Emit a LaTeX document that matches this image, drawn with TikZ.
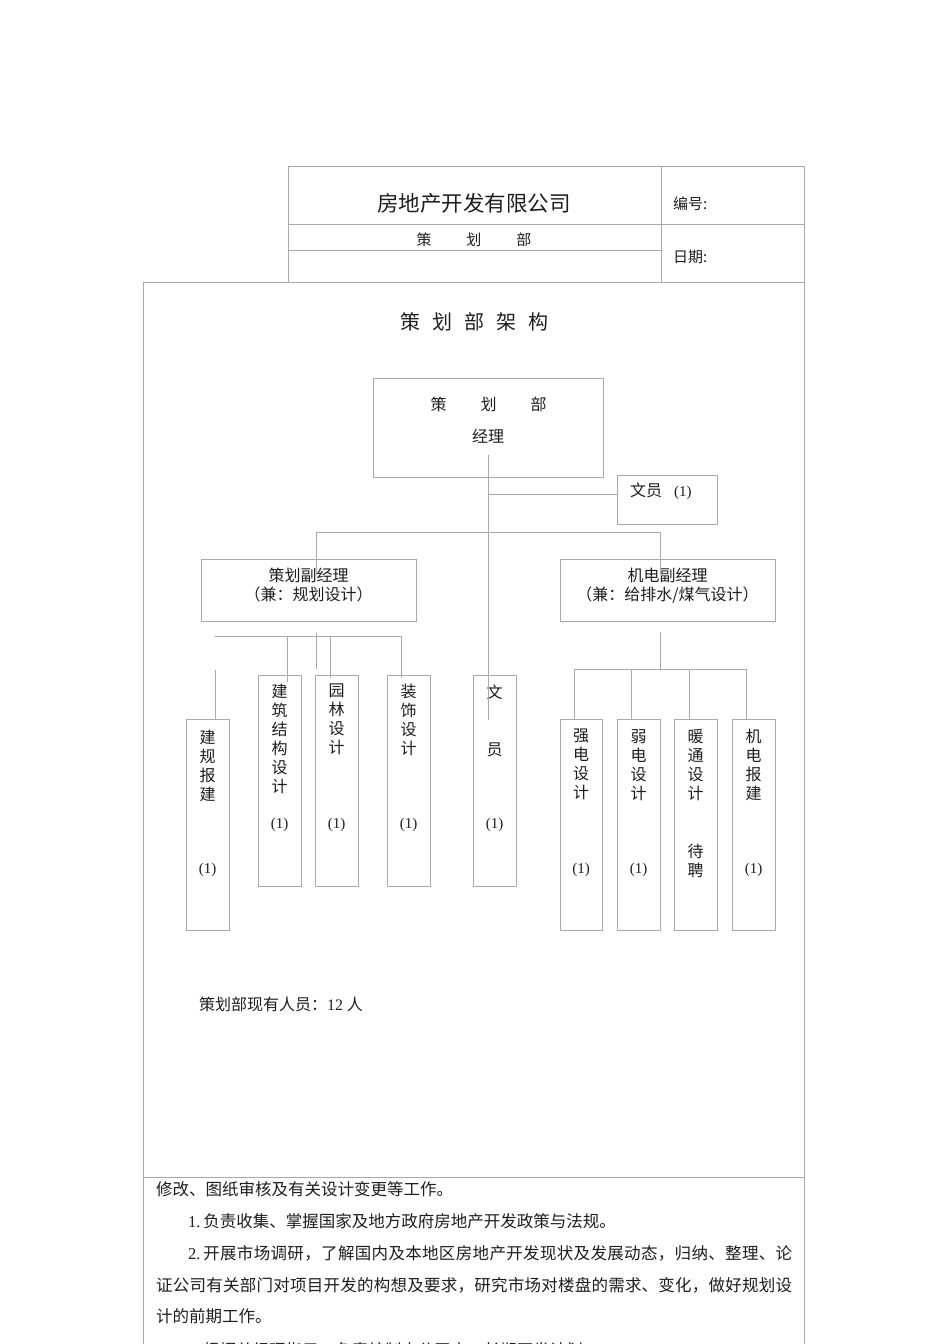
\documentclass[tikz,border=0pt]{standalone}
\usepackage{fontspec}
\setmainfont{Liberation Serif}
\newfontfamily\cjk{Noto Sans CJK SC}
\definecolor{linegray}{RGB}{170,170,170}
\definecolor{txt}{RGB}{30,30,30}
\tikzset{
  box/.style={draw=linegray, line width=0.8pt, inner sep=0pt, rectangle},
  conn/.style={draw=linegray, line width=0.8pt},
  rule/.style={draw=linegray, line width=0.8pt},
  lbl/.style={inner sep=0pt, text=txt, font=\cjk\fontsize{16}{19}\selectfont, align=center},
  vlbl/.style={inner sep=0pt, text=txt, font=\cjk\fontsize{16}{19}\selectfont, align=center, anchor=north},
  para/.style={inner sep=0pt, text=txt, font=\cjk\fontsize{16.5}{20}\selectfont, anchor=west}
}
\begin{document}
\begin{tikzpicture}[x=1pt,y=-1pt]
\useasboundingbox (0,0) rectangle (950,1344);
\fill[white] (0,0) rectangle (950,1344);
% ---------- header table ----------
\draw[rule] (288,282) -- (288,166) -- (804,166) -- (804,282);
\draw[rule] (661,166) -- (661,282);
\draw[rule] (288,224) -- (804,224);
\draw[rule] (288,250) -- (661,250);
\node[lbl, font=\cjk\fontsize{21.5}{24}\selectfont] (company) at (474,203) {房地产开发有限公司};
\node[lbl, font=\cjk\fontsize{15}{18}\selectfont, anchor=west] (codeno) at (673,204) {编号:};
\node[lbl, font=\cjk\fontsize{15}{18}\selectfont] (dept) at (474,240) {策\hspace{35pt}划\hspace{35pt}部};
\node[lbl, font=\cjk\fontsize{15}{18}\selectfont, anchor=west] (date) at (673,257) {日期:};
% ---------- main frame ----------
\draw[rule] (143,282) rectangle (804,1177);
\draw[rule] (143,1177) -- (143,1344);
\draw[rule] (804,1177) -- (804,1344);
\node[lbl, font=\cjk\fontsize{20}{24}\selectfont] (title) at (474,322) {策\hspace{12pt}划\hspace{12pt}部\hspace{12pt}架\hspace{12pt}构};
% ---------- org boxes ----------
\node[box, minimum width=230pt, minimum height=99pt] (mgr) at (488,427.5) {};
\node[lbl] (mgrA) at (488.5,404) {策\hspace{34pt}划\hspace{34pt}部};
\node[lbl] (mgrB) at (488,436) {经理};
\node[box, minimum width=100pt, minimum height=49pt] (clerkA) at (667,499.5) {};
\node[lbl, anchor=west] (clerkAt) at (630,491) {文员\hspace{12pt}{\rmfamily\fontsize{15}{18}\selectfont(1)}};
\node[box, minimum width=215pt, minimum height=62pt] (vpA) at (308.5,590) {};
\node[lbl] (vpAt) at (308.5,585.5) {策划副经理\\（兼：规划设计）};
\node[box, minimum width=215pt, minimum height=62pt] (vpB) at (667.5,590) {};
\node[lbl] (vpBt) at (667.5,585.5) {机电副经理\\（兼：给排水/煤气设计）};
% left column boxes
\node[box, minimum width=43pt, minimum height=211pt] (bA) at (207.5,824.5) {};
\node[vlbl] (bAt) at (207.5,730) {建\\规\\报\\建};
\node[lbl, font=\rmfamily\fontsize{15}{18}\selectfont] (bAn) at (207.5,870) {(1)};
\node[box, minimum width=43pt, minimum height=211pt] (bB) at (279.5,780.5) {};
\node[vlbl] (bBt) at (279.5,684) {建\\筑\\结\\构\\设\\计};
\node[lbl, font=\rmfamily\fontsize{15}{18}\selectfont] (bBn) at (279.5,825) {(1)};
\node[box, minimum width=43pt, minimum height=211pt] (bC) at (336.5,780.5) {};
\node[vlbl] (bCt) at (336.5,684) {园\\林\\设\\计};
\node[lbl, font=\rmfamily\fontsize{15}{18}\selectfont] (bCn) at (336.5,825) {(1)};
\node[box, minimum width=43pt, minimum height=211pt] (bD) at (408.5,780.5) {};
\node[vlbl] (bDt) at (408.5,684) {装\\饰\\设\\计};
\node[lbl, font=\rmfamily\fontsize{15}{18}\selectfont] (bDn) at (408.5,825) {(1)};
\node[box, minimum width=43pt, minimum height=211pt] (bE) at (494.5,780.5) {};
\node[lbl] (bEt1) at (494.5,692) {文};
\node[lbl] (bEt2) at (494.5,750) {员};
\node[lbl, font=\rmfamily\fontsize{15}{18}\selectfont] (bEn) at (494.5,825) {(1)};
% right column boxes
\node[box, minimum width=42pt, minimum height=211pt] (rA) at (581,824.5) {};
\node[vlbl] (rAt) at (581,729) {强\\电\\设\\计};
\node[lbl, font=\rmfamily\fontsize{15}{18}\selectfont] (rAn) at (581,870) {(1)};
\node[box, minimum width=43pt, minimum height=211pt] (rB) at (638.5,824.5) {};
\node[vlbl] (rBt) at (638.5,729) {弱\\电\\设\\计};
\node[lbl, font=\rmfamily\fontsize{15}{18}\selectfont] (rBn) at (638.5,870) {(1)};
\node[box, minimum width=43pt, minimum height=211pt] (rC) at (695.5,824.5) {};
\node[vlbl] (rCt) at (695.5,729) {暖\\通\\设\\计};
\node[vlbl] (rCw) at (695.5,844) {待\\聘};
\node[box, minimum width=43pt, minimum height=211pt] (rD) at (753.5,824.5) {};
\node[vlbl] (rDt) at (753.5,729) {机\\电\\报\\建};
\node[lbl, font=\rmfamily\fontsize{15}{18}\selectfont] (rDn) at (753.5,870) {(1)};
% ---------- connectors ----------
\coordinate (mA) at (488,455);
\coordinate (mB) at (488,720);
\coordinate (mC) at (488,494);
\draw[conn] (mA) -- (mB);
\draw[conn] (mC) -- (clerkA.west |- mC);
\coordinate (hL) at (316,532);
\coordinate (hR) at (660,532);
\coordinate (hLd) at (316,575);
\coordinate (hRd) at (660,575);
\draw[conn] (hLd) -- (hL) -- (hR) -- (hRd);
% left subtree
\coordinate (lA) at (316,633);
\coordinate (lB) at (316,669);
\draw[conn] (lA) -- (lB);
\coordinate (lbL) at (215,636);
\coordinate (lbR) at (401,636);
\draw[conn] (lbL) -- (lbR);
\coordinate (lcA) at (287,636); \coordinate (lcAd) at (287,682);
\coordinate (lcB) at (330,636); \coordinate (lcBd) at (330,678);
\coordinate (lcC) at (401,636); \coordinate (lcCd) at (401,678);
\draw[conn] (lcA) -- (lcAd);
\draw[conn] (lcB) -- (lcBd);
\draw[conn] (lcC) -- (lcCd);
\coordinate (lsA) at (215,670);
\draw[conn] (lsA) -- (lsA |- bA.north);
% right subtree
\coordinate (rTop) at (660,632);
\coordinate (rMid) at (660,669);
\draw[conn] (rTop) -- (rMid);
\coordinate (rbL) at (574,669);
\coordinate (rbR) at (746,669);
\draw[conn] (rbL) -- (rbR);
\coordinate (rv1) at (574,669); \coordinate (rv2) at (631,669);
\coordinate (rv3) at (689,669); \coordinate (rv4) at (746,669);
\draw[conn] (rv1) -- (rv1 |- rA.north);
\draw[conn] (rv2) -- (rv2 |- rB.north);
\draw[conn] (rv3) -- (rv3 |- rC.north);
\draw[conn] (rv4) -- (rv4 |- rD.north);
% ---------- staff count ----------
\node[lbl, anchor=west, font=\cjk\fontsize{16}{19}\selectfont] (count) at (199,1004) {策划部现有人员：{\rmfamily 12} 人};
% ---------- lower text ----------
\node[para] (pA) at (156,1189) {修改、图纸审核及有关设计变更等工作。};
\node[para] (pB) at (188,1221) {{\rmfamily 1.\,}负责收集、掌握国家及地方政府房地产开发政策与法规。};
\node[para] (pC) at (188,1253) {\makebox[604pt][s]{{\rmfamily 2.\,}开\hfill 展\hfill 市\hfill 场\hfill 调\hfill 研\hfill ，\hfill 了\hfill 解\hfill 国\hfill 内\hfill 及\hfill 本\hfill 地\hfill 区\hfill 房\hfill 地\hfill 产\hfill 开\hfill 发\hfill 现\hfill 状\hfill 及\hfill 发\hfill 展\hfill 动\hfill 态\hfill ，\hfill 归\hfill 纳\hfill 、\hfill 整\hfill 理\hfill 、\hfill 论}};
\node[para] (pD) at (156,1285) {\makebox[636pt][s]{证\hfill 公\hfill 司\hfill 有\hfill 关\hfill 部\hfill 门\hfill 对\hfill 项\hfill 目\hfill 开\hfill 发\hfill 的\hfill 构\hfill 想\hfill 及\hfill 要\hfill 求\hfill ，\hfill 研\hfill 究\hfill 市\hfill 场\hfill 对\hfill 楼\hfill 盘\hfill 的\hfill 需\hfill 求\hfill 、\hfill 变\hfill 化\hfill ，\hfill 做\hfill 好\hfill 规\hfill 划\hfill 设}};
\node[para] (pE) at (156,1316) {计的前期工作。};
\node[para] (pF) at (188,1350) {{\rmfamily 3.\,}根据总经理指示，负责编制本公司中、长期开发计划。};
\end{tikzpicture}
\end{document}
